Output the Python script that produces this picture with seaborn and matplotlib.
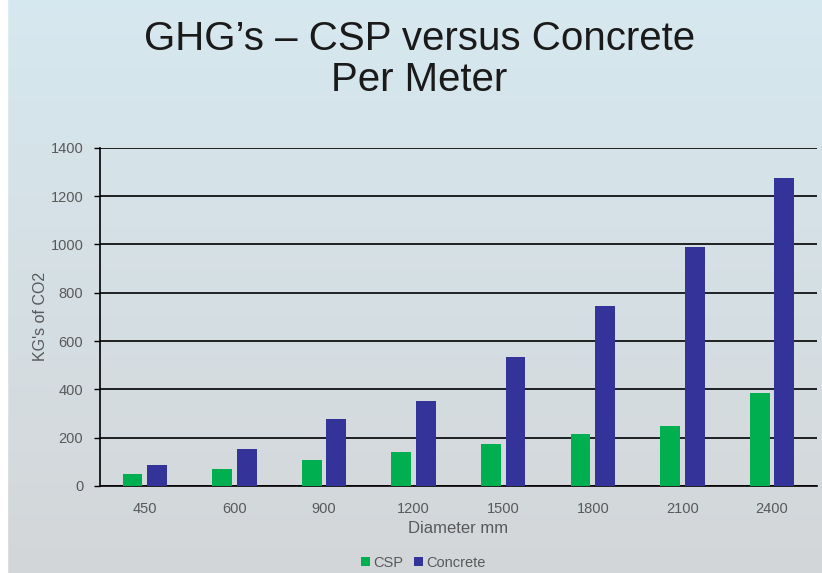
import numpy as np
import pandas as pd
import matplotlib
matplotlib.use("Agg")
import matplotlib.pyplot as plt
import seaborn as sns

diameters = ["450", "600", "900", "1200", "1500", "1800", "2100", "2400"]
csp = [50, 70, 108, 141, 174, 215, 249, 385]
concrete = [87, 153, 278, 352, 534, 746, 990, 1276]
series_names = ["CSP", "Concrete"]
y_ticks = [0, 200, 400, 600, 800, 1000, 1200, 1400]

df = pd.DataFrame({
    "Diameter": diameters * 2,
    "Value": csp + concrete,
    "Series": [series_names[0]] * len(diameters) + [series_names[1]] * len(diameters),
})

sns.set_style("white")
plt.rcParams["font.family"] = ["Liberation Sans", "DejaVu Sans"]

fig = plt.figure(figsize=(8.22, 5.73), dpi=100)

# background gradient
bg = fig.add_axes([0, 0, 1, 1], zorder=0)
top = np.array([0.84, 0.91, 0.94])
bot = np.array([0.83, 0.84, 0.85])
t = np.linspace(0, 1, 256)[:, None]
grad = top[None, :] * (1 - t) + bot[None, :] * t
img = np.repeat(grad[:, None, :], 4, axis=1)
bg.imshow(img, aspect="auto", extent=[0, 1, 0, 1], origin="upper")
bg.axvspan(0, 0.008, color="white")
bg.set_xlim(0, 1)
bg.set_ylim(0, 1)
bg.axis("off")

ax = fig.add_axes([0.1217, 0.152, 0.872, 0.59], zorder=1)
ax.set_facecolor("none")

palette = {"CSP": "#00b050", "Concrete": "#333399"}
sns.barplot(data=df, x="Diameter", y="Value", hue="Series", palette=palette,
            order=diameters, hue_order=series_names, width=0.55, gap=0.2,
            saturation=1, linewidth=0, ax=ax, zorder=3, legend=True)

ax.set_ylim(0, 1400)
ax.set_yticks(y_ticks)
ax.set_xlim(-0.5, len(diameters) - 0.5)
ax.yaxis.grid(True, color="black", linewidth=1.2, zorder=1)
ax.set_axisbelow(True)
for s in ["top", "right"]:
    ax.spines[s].set_visible(False)
for s in ["left", "bottom"]:
    ax.spines[s].set_color("black")
    ax.spines[s].set_linewidth(1.2)
ax.tick_params(axis="y", which="both", left=True, length=4, width=1.0, color="black",
               labelsize=10.5, labelcolor="#595959", pad=8)
ax.tick_params(axis="x", bottom=False, labelsize=10.5, labelcolor="#595959", pad=8)
ax.set_xlabel("Diameter mm", fontsize=12, color="#595959", labelpad=4)
ax.set_ylabel("KG's of CO2", fontsize=11.5, color="#595959", labelpad=2)

handles, labels = ax.get_legend_handles_labels()
ax.get_legend().remove()
fig.legend(handles, labels, loc="center", bbox_to_anchor=(0.515, 0.018), ncol=2,
           frameon=False, fontsize=10.5, labelcolor="#595959", handlelength=0.6,
           handleheight=0.6, handletextpad=0.2, columnspacing=0.8)

fig.text(0.51, 0.965, "GHG\u2019s \u2013 CSP versus Concrete\nPer Meter", ha="center", va="top",
         fontsize=29, color="#1a1a1a", linespacing=1.1)

fig.savefig("out.png", dpi=100)
